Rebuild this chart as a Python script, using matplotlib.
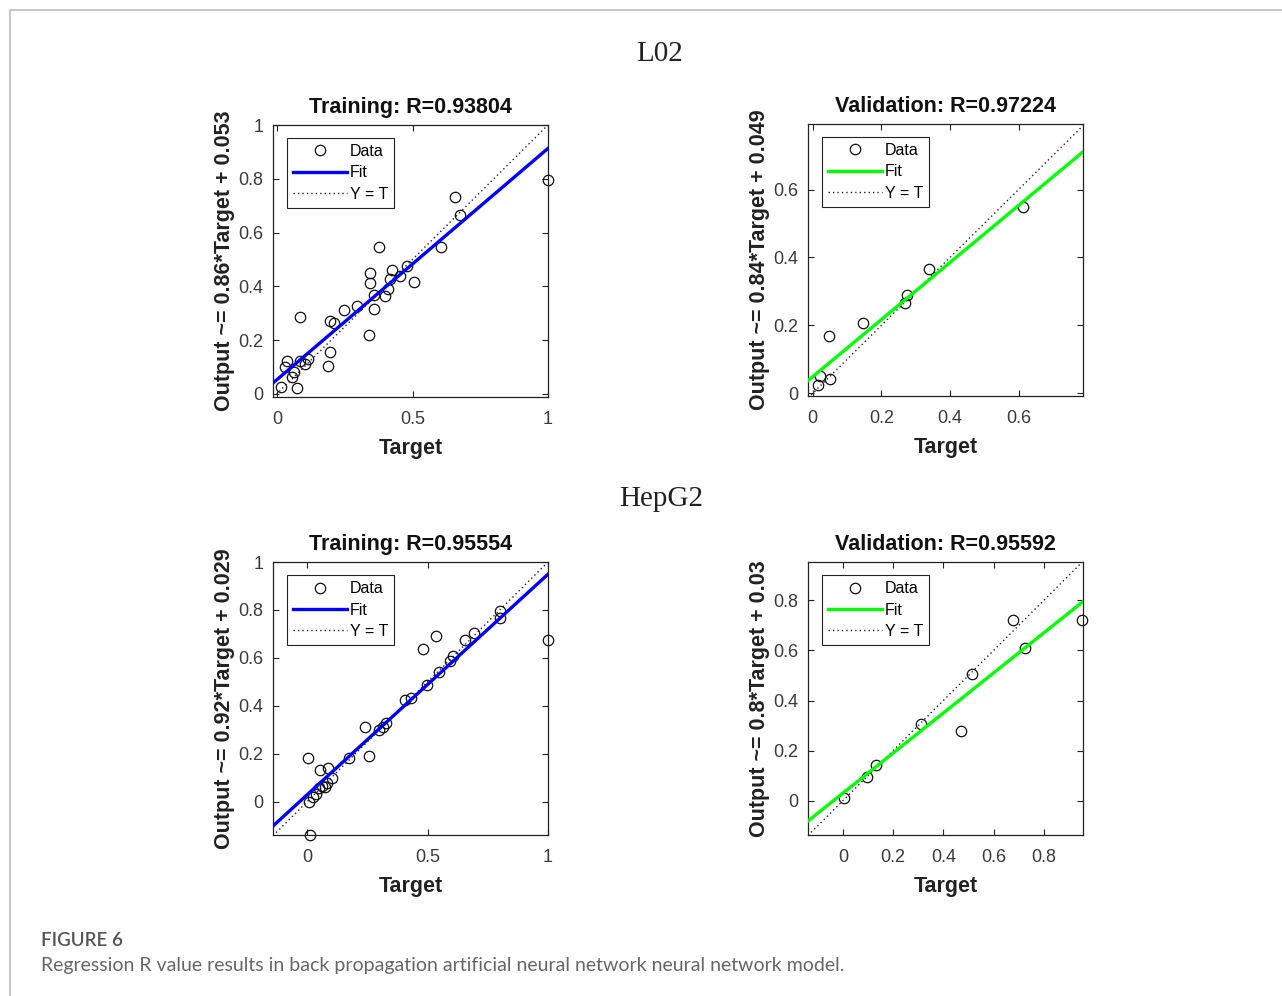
import numpy as np
import matplotlib
matplotlib.use("Agg")
import matplotlib.pyplot as plt
from matplotlib.lines import Line2D
from matplotlib.ticker import FuncFormatter

# ---------------- data ----------------
sections = ["L02", "HepG2"]

# L02 training
l02_train_t = [0.015, 0.038, 0.030, 0.054, 0.073, 0.064, 0.085, 0.104, 0.116, 0.083,
               0.188, 0.196, 0.196, 0.209, 0.248, 0.295, 0.338, 0.342, 0.344, 0.357,
               0.359, 0.375, 0.400, 0.410, 0.416, 0.425, 0.453, 0.480, 0.505, 0.604,
               0.656, 0.674, 1.000]
l02_train_y = [0.027, 0.123, 0.101, 0.064, 0.022, 0.080, 0.123, 0.109, 0.130, 0.284,
               0.105, 0.154, 0.272, 0.265, 0.312, 0.327, 0.219, 0.451, 0.414, 0.368,
               0.315, 0.546, 0.364, 0.389, 0.426, 0.459, 0.438, 0.475, 0.416, 0.546,
               0.731, 0.667, 0.796]
# L02 validation
l02_val_t = [0.015, 0.021, 0.049, 0.047, 0.146, 0.269, 0.274, 0.340, 0.612]
l02_val_y = [0.024, 0.051, 0.041, 0.169, 0.208, 0.267, 0.289, 0.365, 0.550]

# HepG2 training
hep_train_t = [0.011, 0.003, 0.007, 0.025, 0.035, 0.053, 0.049, 0.063, 0.072, 0.083,
               0.088, 0.101, 0.174, 0.240, 0.257, 0.299, 0.313, 0.326, 0.406, 0.433,
               0.479, 0.496, 0.535, 0.549, 0.594, 0.607, 0.657, 0.694, 0.799, 0.801,
               1.000]
hep_train_y = [-0.141, 0.181, 0.000, 0.021, 0.031, 0.132, 0.056, 0.065, 0.063, 0.077,
               0.139, 0.097, 0.181, 0.313, 0.191, 0.299, 0.313, 0.330, 0.425, 0.432,
               0.636, 0.487, 0.692, 0.543, 0.585, 0.606, 0.675, 0.703, 0.797, 0.766,
               0.675]
# HepG2 validation
hep_val_t = [0.005, 0.095, 0.131, 0.311, 0.470, 0.515, 0.678, 0.725, 0.954]
hep_val_y = [0.012, 0.096, 0.142, 0.306, 0.279, 0.505, 0.721, 0.608, 0.721]

titles = ["Training: R=0.93804", "Validation: R=0.97224",
          "Training: R=0.95554", "Validation: R=0.95592"]
slopes = [0.86, 0.84, 0.92, 0.8]
intercepts = [0.053, 0.049, 0.029, 0.03]
ylabels = ["Output ~= 0.86*Target + 0.053", "Output ~= 0.84*Target + 0.049",
           "Output ~= 0.92*Target + 0.029", "Output ~= 0.8*Target + 0.03"]
fit_colors = ["#0000ff", "#00ff00", "#0000ff", "#00ff00"]
xlims = [(-0.015, 1.0), (-0.014, 0.788), (-0.142, 1.0), (-0.139, 0.956)]
ylims = [(-0.012, 1.0), (-0.008, 0.793), (-0.139, 1.0), (-0.137, 0.953)]
xticks = [[0, 0.5, 1], [0, 0.2, 0.4, 0.6], [0, 0.5, 1], [0, 0.2, 0.4, 0.6, 0.8]]
yticks = [[0, 0.2, 0.4, 0.6, 0.8, 1], [0, 0.2, 0.4, 0.6],
          [0, 0.2, 0.4, 0.6, 0.8, 1], [0, 0.2, 0.4, 0.6, 0.8]]

series = [(l02_train_t, l02_train_y), (l02_val_t, l02_val_y),
          (hep_train_t, hep_train_y), (hep_val_t, hep_val_y)]

caption_head = "FIGURE 6"
caption_text = "Regression R value results in back propagation artificial neural network neural network model."

# ---------------- layout ----------------
W, H = 1282, 996
fig = plt.figure(figsize=(W / 100, H / 100), dpi=100)
plt.rcParams['font.family'] = ['Liberation Sans', 'DejaVu Sans']

# axes boxes in pixels (left, top, right, bottom)
boxes = [(273, 125, 548, 397), (808, 124, 1083, 396),
         (273, 562, 548, 835), (808, 562, 1083, 835)]

# border frame
fig.add_artist(Line2D([10 / W, 1.0], [1 - 10 / H, 1 - 10 / H], color="#c8c8c8", lw=1.5))
fig.add_artist(Line2D([10 / W, 10 / W], [1 - 10 / H, 0.0], color="#c8c8c8", lw=1.5))

# section titles
fig.text(660 / W, 1 - 54 / H, sections[0], ha="center", va="center",
         fontsize=21, family=["Liberation Serif", "DejaVu Serif"], color="#222222")
fig.text(661 / W, 1 - 499 / H, sections[1], ha="center", va="center",
         fontsize=21, family=["Liberation Serif", "DejaVu Serif"], color="#222222")

fmt = FuncFormatter(lambda v, p: ("%g" % round(v, 4)))

for i, (l, t, r, b) in enumerate(boxes):
    ax = fig.add_axes([l / W, 1 - b / H, (r - l) / W, (b - t) / H])
    xs, ys = series[i]
    x0, x1 = xlims[i]
    ax.set_xlim(x0, x1)
    ax.set_ylim(*ylims[i])
    xx = np.array([x0, x1])
    h_yt, = ax.plot(xx, xx, ls=(0, (1, 2.2)), color="#222222", lw=1.0, zorder=1)
    h_data, = ax.plot(xs, ys, ls="none", marker="o", ms=7.5, mfc="none",
                      mec="#111111", mew=0.9, zorder=2, clip_on=False)
    h_fit, = ax.plot(xx, slopes[i] * xx + intercepts[i], color=fit_colors[i],
                     lw=2.4, zorder=3)
    ax.set_xticks(xticks[i])
    ax.set_yticks(yticks[i])
    ax.xaxis.set_major_formatter(fmt)
    ax.yaxis.set_major_formatter(fmt)
    ax.tick_params(direction="in", top=True, right=True, length=4, width=0.8,
                   labelsize=13, labelcolor="#3a3a3a", color="#222222", pad=7)
    ax.tick_params(axis="x", pad=10)
    for s in ax.spines.values():
        s.set_color("#222222")
        s.set_linewidth(0.9)
    ax.set_title(titles[i], fontsize=15.5, fontweight="bold", pad=9, color="#111111")
    ax.set_xlabel("Target", fontsize=15.5, fontweight="bold", labelpad=7, color="#222222")
    ax.set_ylabel(ylabels[i], fontsize=15.5, fontweight="bold", labelpad=2, color="#222222")
    leg = ax.legend([h_data, h_fit, h_yt], ["Data", "Fit", "Y = T"],
                    loc="upper left", bbox_to_anchor=(14 / 275, 1 - 13 / 272),
                    borderaxespad=0, fontsize=11.5, handlelength=3.4,
                    handletextpad=0.15, labelspacing=0.4, borderpad=0.38,
                    fancybox=False, framealpha=1, edgecolor="#222222",
                    numpoints=1)
    leg.get_frame().set_linewidth(0.8)

fig.text(41 / W, 1 - 940 / H, caption_head, ha="left", va="center",
         fontsize=13.5, color="#555555", family=["Lato", "DejaVu Sans"],
         fontweight="semibold")
fig.text(41 / W, 1 - 965 / H, caption_text, ha="left", va="center",
         fontsize=14, color="#666666", family=["Lato", "DejaVu Sans"])

fig.savefig("out.png", dpi=100, facecolor="white")
